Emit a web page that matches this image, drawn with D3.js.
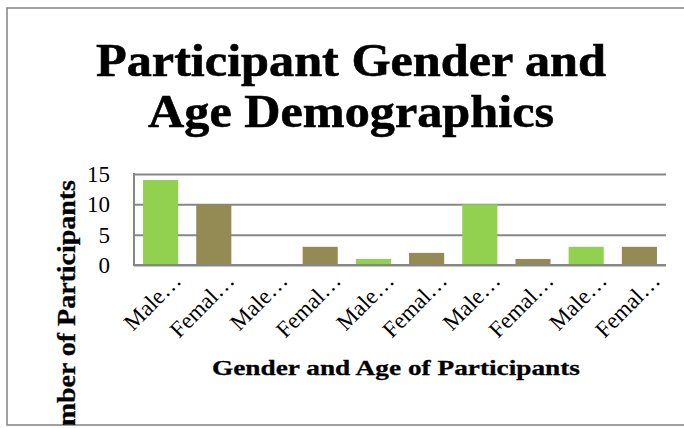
<!DOCTYPE html>
<html>
<head>
<meta charset="utf-8">
<script src="https://cdn.jsdelivr.net/npm/d3@7/dist/d3.min.js"></script>
<style>
  html, body { margin: 0; padding: 0; background: #fff; overflow: hidden; }
  svg { display: block; }
</style>
</head>
<body>
<script>
// ---- data ----
const categories = ["Male…", "Femal…", "Male…", "Femal…", "Male…", "Femal…", "Male…", "Femal…", "Male…", "Femal…"];
const genders    = ["Male", "Female", "Male", "Female", "Male", "Female", "Male", "Female", "Male", "Female"];
const values     = [14, 10, 0, 3, 1, 2, 10, 1, 3, 3];
const yTicks     = [0, 5, 10, 15];
const titleLines = ["Participant Gender and", "Age Demographics"];
const xTitle = "Gender and Age of Participants";
const yTitle = "Number of Participants";

const W = 684, H = 428;
const plot = { left: 134, right: 666, top: 174, bottom: 265 };
const colors = { Male: "#92D050", Female: "#948A54" };
const gridColor = "#878787";
const serif = "'Liberation Serif', 'DejaVu Serif', serif";

const svg = d3.select("body").append("svg").attr("width", W).attr("height", H);

svg.append("defs").append("clipPath").attr("id", "frameClip")
  .append("rect").attr("x", 7).attr("y", 8).attr("width", 760).attr("height", 417);

const data = categories.map((c, i) => ({ i, label: c, gender: genders[i], value: values[i] }));

const x = d3.scaleBand()
  .domain(data.map(d => d.i))
  .range([plot.left, plot.right])
  .paddingInner(0.34)
  .paddingOuter(0.17);

const y = d3.scaleLinear().domain([0, 15]).range([plot.bottom, plot.top]);

// frame
svg.append("rect")
  .attr("x", 7).attr("y", 8).attr("width", 760).attr("height", 417)
  .attr("fill", "#fff").attr("stroke", "#8a8a8a").attr("stroke-width", 1.6);

// title
const title = svg.append("text")
  .attr("font-family", serif)
  .attr("font-weight", "bold").attr("font-size", 47).attr("fill", "#000")
  .attr("text-anchor", "middle")
  .attr("stroke", "#000").attr("stroke-width", 0.6);
title.append("tspan").attr("x", 351).attr("y", 76)
  .attr("textLength", 510).attr("lengthAdjust", "spacingAndGlyphs").text(titleLines[0]);
title.append("tspan").attr("x", 351).attr("y", 127)
  .attr("textLength", 406).attr("lengthAdjust", "spacingAndGlyphs").text(titleLines[1]);

// gridlines + y tick labels
const yAxis = d3.axisLeft(y).tickValues(yTicks).tickSize(-(plot.right - plot.left)).tickPadding(24);
const gy = svg.append("g").attr("transform", `translate(${plot.left},0)`).call(yAxis);
gy.select(".domain").remove();
gy.selectAll(".tick line").attr("stroke", gridColor).attr("stroke-width", 2);
gy.selectAll(".tick text")
  .attr("font-family", serif)
  .attr("font-size", 23).attr("fill", "#000");

// bars
svg.append("g").selectAll("rect").data(data).join("rect")
  .attr("x", d => x(d.i))
  .attr("width", x.bandwidth())
  .attr("y", d => y(d.value))
  .attr("height", d => y(0) - y(d.value))
  .attr("fill", d => colors[d.gender]);

// axis lines
svg.append("line")
  .attr("x1", plot.left).attr("x2", plot.left).attr("y1", plot.top - 1).attr("y2", plot.bottom + 1)
  .attr("stroke", gridColor).attr("stroke-width", 2);
svg.append("line")
  .attr("x1", plot.left - 1).attr("x2", plot.right).attr("y1", plot.bottom).attr("y2", plot.bottom)
  .attr("stroke", gridColor).attr("stroke-width", 2);

// x tick labels
const xAxis = d3.axisBottom(x).tickSize(0).tickFormat(i => categories[i]);
const gx = svg.append("g").attr("transform", `translate(0,${plot.bottom})`).call(xAxis);
gx.select(".domain").remove();
gx.selectAll(".tick text")
  .attr("font-family", serif)
  .attr("font-size", 23).attr("fill", "#000")
  .attr("text-anchor", "end")
  .attr("dy", null).attr("y", 0)
  .attr("transform", "translate(22,17) rotate(-45)");

// axis titles
svg.append("text")
  .attr("x", 396).attr("y", 375)
  .attr("text-anchor", "middle")
  .attr("font-family", serif)
  .attr("font-weight", "bold").attr("font-size", 22)
  .attr("stroke", "#000").attr("stroke-width", 0.3)
  .attr("textLength", 368).attr("lengthAdjust", "spacingAndGlyphs")
  .text(xTitle);

svg.append("g").attr("clip-path", "url(#frameClip)")
  .append("text")
  .attr("transform", "translate(75,180) rotate(-90)")
  .attr("text-anchor", "end")
  .attr("font-family", serif)
  .attr("font-weight", "bold").attr("font-size", 25)
  .attr("stroke", "#000").attr("stroke-width", 0.3)
  .attr("textLength", 282).attr("lengthAdjust", "spacingAndGlyphs")
  .text(yTitle);
</script>
</body>
</html>
